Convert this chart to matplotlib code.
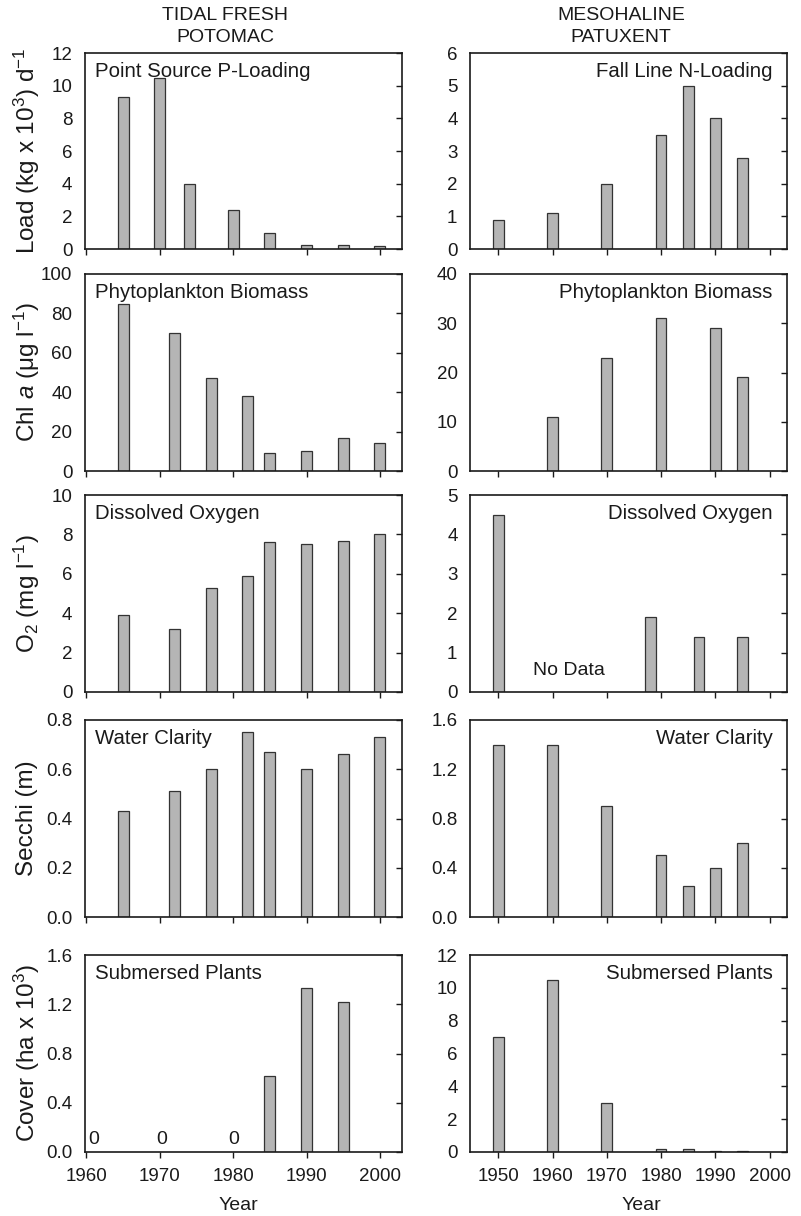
import matplotlib
matplotlib.use("Agg")
import matplotlib.pyplot as plt

plt.rcParams['font.family'] = ['Liberation Sans', 'DejaVu Sans']
plt.rcParams['mathtext.fontset'] = 'custom'
plt.rcParams['mathtext.rm'] = 'Liberation Sans'
plt.rcParams['mathtext.it'] = 'Liberation Sans:italic'
plt.rcParams['text.color'] = '#1a1a1a'
plt.rcParams['axes.edgecolor'] = '#1a1a1a'
plt.rcParams['xtick.color'] = '#1a1a1a'
plt.rcParams['ytick.color'] = '#1a1a1a'

# Tidal fresh Potomac
pot_load_years = [1965, 1970, 1974, 1980, 1985, 1990, 1995, 2000]
pot_load = [9.33, 10.5, 4.0, 2.4, 1.0, 0.22, 0.22, 0.2]
pot_years = [1965, 1972, 1977, 1982, 1985, 1990, 1995, 2000]
pot_chla = [85, 70, 47, 38, 9, 10, 17, 14]
pot_do = [3.9, 3.2, 5.3, 5.9, 7.6, 7.5, 7.65, 8.0]
pot_secchi = [0.43, 0.51, 0.60, 0.75, 0.67, 0.60, 0.66, 0.73]
pot_sav_years = [1985, 1990, 1995]
pot_sav = [0.62, 1.33, 1.22]
pot_zero_years = [1961, 1970.3, 1980]

# Mesohaline Patuxent
pat_years = [1950, 1960, 1970, 1980, 1985, 1990, 1995]
pat_load = [0.9, 1.1, 2.0, 3.5, 5.0, 4.0, 2.8]
pat_chla_years = [1960, 1970, 1980, 1990, 1995]
pat_chla = [11, 23, 31, 29, 19]
pat_do_years = [1950, 1978, 1987, 1995]
pat_do = [4.5, 1.9, 1.4, 1.4]
pat_secchi = [1.4, 1.4, 0.9, 0.5, 0.25, 0.4, 0.6]
pat_sav = [7.0, 10.5, 3.0, 0.2, 0.2, 0.05, 0.05]

left_ylabels = ["Load (kg x 10$^{3}$) d$^{-1}$", "Chl $a$ ($\\mathrm{\\mu}$g l$^{-1}$)",
                "O$_{2}$ (mg l$^{-1}$)", "Secchi (m)", "Cover (ha x 10$^{3}$)"]

W, H = 801, 1216
fig = plt.figure(figsize=(W / 100, H / 100), dpi=100)

row_top = [53, 274, 495, 720, 955]
row_bot = [249, 471, 692, 917, 1152]
col_x = [(85, 402), (470, 787)]


def make_ax(r, c):
    x0, x1 = col_x[c]
    return fig.add_axes([x0 / W, 1 - row_bot[r] / H, (x1 - x0) / W, (row_bot[r] - row_top[r]) / H])


def style(ax, c, ymax, ystep, fmt, last):
    if c == 0:
        ax.set_xlim(1959.8, 2003)
        ax.set_xticks([1960, 1970, 1980, 1990, 2000])
    else:
        ax.set_xlim(1944.8, 2003.2)
        ax.set_xticks([1950, 1960, 1970, 1980, 1990, 2000])
    ax.set_ylim(0, ymax)
    ticks = [i * ystep for i in range(int(round(ymax / ystep)) + 1)]
    ax.set_yticks(ticks)
    ax.set_yticklabels([fmt.format(t) for t in ticks])
    for s in ax.spines.values():
        s.set_linewidth(1.2)
    ax.tick_params(axis='x', direction='out', length=4.5, width=1, labelsize=13.5, pad=7,
                   labelbottom=last)
    ax.tick_params(axis='y', direction='in', length=4.5, width=1, labelsize=13.5, pad=9,
                   left=False, right=True)


def bars(ax, x, y, c):
    w = 1.5 if c == 0 else 2.0
    ax.bar(x, y, width=w, color='#b5b5b5', edgecolor='#333333', linewidth=0.9, zorder=2)


def label(ax, text, c):
    if c == 0:
        ax.text(0.033, 0.955, text, transform=ax.transAxes, ha='left', va='top', fontsize=14.7)
    else:
        ax.text(0.955, 0.955, text, transform=ax.transAxes, ha='right', va='top', fontsize=14.7)


panels = [
    (0, 0, pot_load_years, pot_load, 12, 2, "{:.0f}", "Point Source P-Loading"),
    (0, 1, pat_years, pat_load, 6, 1, "{:.0f}", "Fall Line N-Loading"),
    (1, 0, pot_years, pot_chla, 100, 20, "{:.0f}", "Phytoplankton Biomass"),
    (1, 1, pat_chla_years, pat_chla, 40, 10, "{:.0f}", "Phytoplankton Biomass"),
    (2, 0, pot_years, pot_do, 10, 2, "{:.0f}", "Dissolved Oxygen"),
    (2, 1, pat_do_years, pat_do, 5, 1, "{:.0f}", "Dissolved Oxygen"),
    (3, 0, pot_years, pot_secchi, 0.8, 0.2, "{:.1f}", "Water Clarity"),
    (3, 1, pat_years, pat_secchi, 1.6, 0.4, "{:.1f}", "Water Clarity"),
    (4, 0, pot_sav_years, pot_sav, 1.6, 0.4, "{:.1f}", "Submersed Plants"),
    (4, 1, pat_years, pat_sav, 12, 2, "{:.0f}", "Submersed Plants"),
]

axes = {}
for r, c, x, y, ymax, ystep, fmt, name in panels:
    ax = make_ax(r, c)
    bars(ax, x, y, c)
    style(ax, c, ymax, ystep, fmt, r == 4)
    label(ax, name, c)
    axes[(r, c)] = ax
    if c == 0:
        yc = 1 - (row_top[r] + row_bot[r]) / 2 / H
        fig.text(27 / W, yc, left_ylabels[r], rotation=90, ha='center', va='center', fontsize=17.5)

# zero markers and no-data note
for yr in pot_zero_years:
    axes[(4, 0)].text(yr, 0.105, "0", ha='center', va='center', fontsize=14)
axes[(2, 1)].text(1963, 0.55, "No Data", ha='center', va='center', fontsize=14)

fig.text(225 / W, 1 - 16 / H, "TIDAL FRESH", ha='center', va='center', fontsize=14)
fig.text(225 / W, 1 - 38 / H, "POTOMAC", ha='center', va='center', fontsize=14)
fig.text(621 / W, 1 - 16 / H, "MESOHALINE", ha='center', va='center', fontsize=14)
fig.text(621 / W, 1 - 38 / H, "PATUXENT", ha='center', va='center', fontsize=14)

fig.text(238 / W, 1 - 1205 / H, "Year", ha='center', va='center', fontsize=14)
fig.text(641 / W, 1 - 1205 / H, "Year", ha='center', va='center', fontsize=14)

fig.savefig("out.png", dpi=100)
